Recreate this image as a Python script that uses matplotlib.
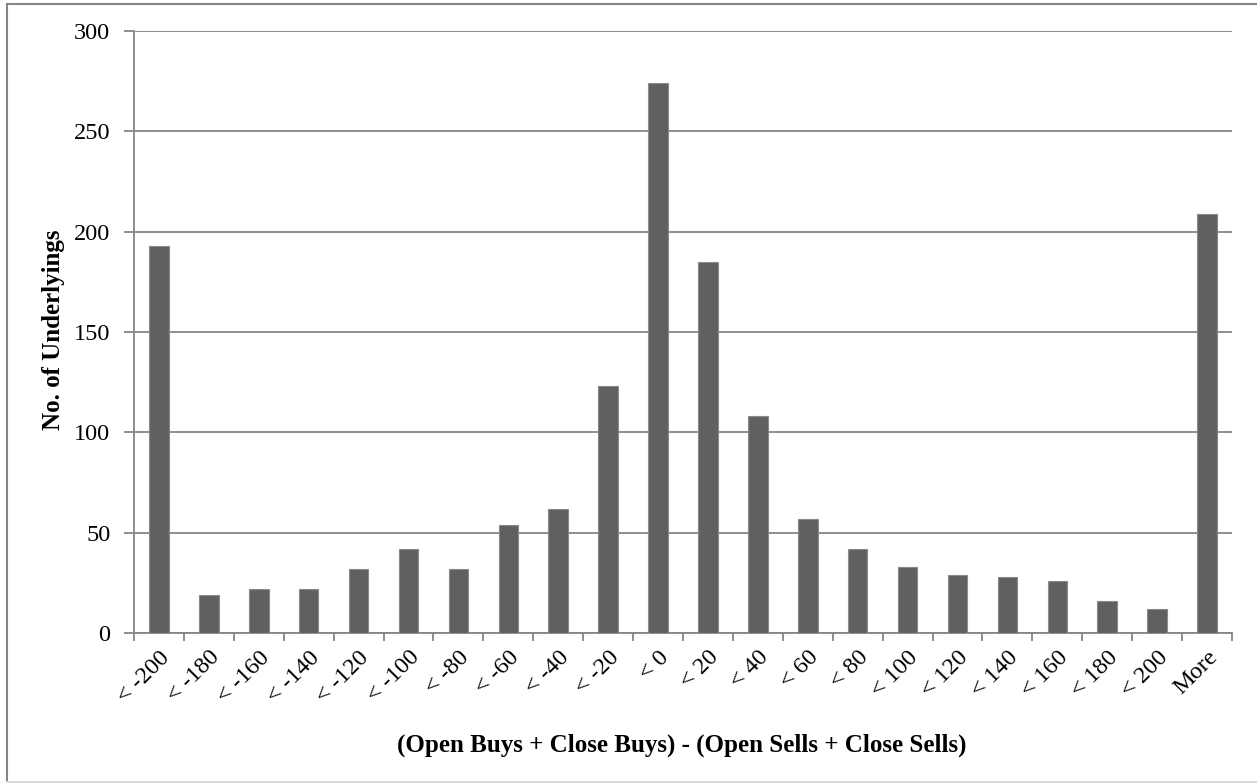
import matplotlib
matplotlib.use("Agg")
import matplotlib.pyplot as plt
from matplotlib.lines import Line2D

# histogram bins and counts
categories = ["< -200", "< -180", "< -160", "< -140", "< -120", "< -100", "< -80",
              "< -60", "< -40", "< -20", "< 0", "< 20", "< 40", "< 60", "< 80",
              "< 100", "< 120", "< 140", "< 160", "< 180", "< 200", "More"]
counts = [193, 19, 22, 22, 32, 42, 32, 54, 62, 123, 274, 185, 108, 57, 42,
          33, 29, 28, 26, 16, 12, 209]
y_ticks = [0, 50, 100, 150, 200, 250, 300]

plt.rcParams['font.family'] = ['Liberation Serif', 'DejaVu Serif']
axis_grey = '#868686'
W, H = 1257, 783

fig = plt.figure(figsize=(W / 100, H / 100), dpi=100)
ax = fig.add_axes([134 / W, 1 - 633 / H, (1232 - 134) / W, (633 - 31) / H])

x = list(range(len(categories)))
ax.bar(x, counts, width=0.39, color='#606060', edgecolor='#8a8a8a', linewidth=0.8, zorder=3)

ax.set_xlim(-0.5, len(categories) - 0.5)
ax.set_ylim(0, 300)
ax.set_yticks(y_ticks)
ax.set_yticklabels([str(v) for v in y_ticks], fontsize=17.5)
ax.yaxis.grid(True, color=axis_grey, linewidth=1.3, zorder=0)

# category boundaries carry the tick marks, centres carry the labels
ax.set_xticks([i - 0.5 for i in range(len(categories) + 1)])
ax.set_xticklabels([])
ax.set_xticks(x, minor=True)
ax.set_xticklabels(categories, minor=True, fontsize=17.5, rotation=45,
                   ha='right', va='top', rotation_mode='anchor')
ax.tick_params(axis='x', which='major', length=6, width=1.3, color=axis_grey, direction='out')
ax.tick_params(axis='x', which='minor', length=0, pad=10)
ax.tick_params(axis='y', length=7, width=1.3, color=axis_grey, direction='out', pad=10)

for side in ['top', 'right']:
    ax.spines[side].set_visible(False)
for side in ['left', 'bottom']:
    ax.spines[side].set_color(axis_grey)
    ax.spines[side].set_linewidth(1.3)

fig.text(54 / W, 1 - 330 / H, 'No. of Underlyings', rotation=90, ha='center', va='center',
         fontsize=18, fontweight='bold')
fig.text(682 / W, 1 - 745 / H, '(Open Buys + Close Buys) - (Open Sells + Close Sells)',
         ha='center', va='center', fontsize=18, fontweight='bold')

# chart area border (top and left edge; bottom one faint)
fig.add_artist(Line2D([6.5 / W, 6.5 / W], [1 - 4 / H, 1 - 782 / H], transform=fig.transFigure,
                      color=axis_grey, linewidth=1.5))
fig.add_artist(Line2D([6.5 / W, 1.0], [1 - 4 / H, 1 - 4 / H], transform=fig.transFigure,
                      color=axis_grey, linewidth=1.5))
fig.add_artist(Line2D([6.5 / W, 1.0], [1 - 782 / H, 1 - 782 / H], transform=fig.transFigure,
                      color='#d9d9d9', linewidth=1.5))

fig.savefig('out.png', dpi=100)
